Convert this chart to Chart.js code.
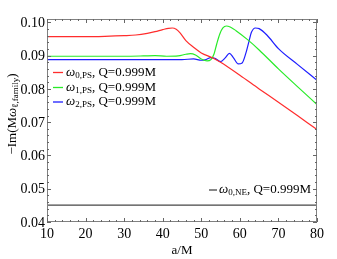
<!DOCTYPE html>
<html><head><meta charset="utf-8">
<script src="https://cdn.jsdelivr.net/npm/chart.js@4.4.0/dist/chart.umd.min.js"></script>
<style>html,body{margin:0;padding:0;background:#fff}#w{width:337px;height:259px}</style>
</head><body><div id="w"><canvas id="c" width="337" height="259"></canvas></div>
<script>
const xTicks = [10, 20, 30, 40, 50, 60, 70, 80];
const yTicks = [0.04, 0.05, 0.06, 0.07, 0.08, 0.09, 0.10];
const yTickLabels = ["0.04", "0.05", "0.06", "0.07", "0.08", "0.09", "0.10"];

const redA = [10, 20, 25, 30, 33, 36, 38, 40, 41.5, 42.5, 43.5, 44.5, 46, 48, 50, 53, 55, 60, 65, 70, 75, 80];
const redV = [0.0957, 0.0957, 0.0958, 0.0960, 0.0962, 0.0967, 0.0972, 0.0978, 0.0982, 0.0983, 0.0979, 0.0968, 0.0945, 0.0925, 0.0908, 0.0893, 0.0880, 0.0841, 0.0800, 0.0760, 0.0719, 0.0678];

const greenA = [10, 20, 30, 35, 38, 41, 44, 46, 47.2, 48.5, 50, 51.5, 52.5, 53.3, 54, 54.8, 55.6, 56.5, 57.5, 59, 62, 65, 70, 75, 80];
const greenV = [0.0898, 0.0898, 0.0898, 0.0899, 0.0900, 0.0898, 0.0899, 0.0904, 0.0906, 0.0902, 0.0890, 0.0884, 0.0888, 0.0905, 0.0935, 0.0965, 0.0983, 0.0989, 0.0986, 0.0975, 0.0948, 0.0917, 0.0860, 0.0806, 0.0753];

const blueA = [10, 30, 40, 45, 48, 50, 51, 52.5, 53.5, 55, 56.2, 57.3, 58.3, 59.6, 60.6, 61.5, 62.3, 63, 64, 65, 67, 70, 75, 80];
const blueV = [0.0888, 0.0888, 0.0888, 0.0888, 0.0890, 0.0886, 0.0887, 0.0894, 0.0892, 0.0882, 0.0893, 0.0907, 0.0894, 0.0875, 0.0878, 0.0905, 0.0940, 0.0970, 0.0983, 0.0981, 0.0962, 0.0921, 0.0873, 0.0826];

const neA = [10, 80];
const neV = [0.0451, 0.0451];

const seriesLabels = [
  ["ω", "0,PS", ", Q=0.999M"],
  ["ω", "1,PS", ", Q=0.999M"],
  ["ω", "2,PS", ", Q=0.999M"],
  ["ω", "0,NE", ", Q=0.999M"]
];
const colors = ["rgb(255,45,45)", "rgb(40,235,40)", "rgb(30,30,255)", "rgb(70,70,70)"];

function pts(a, v) { return a.map((x, i) => ({x: x, y: v[i]})); }

const SERIF = "'Liberation Serif', 'DejaVu Serif', serif";

function drawSegs(ctx, segs, x, y, align) {
  let total = 0;
  segs.forEach(s => { ctx.font = s[1]; total += ctx.measureText(s[0]).width; });
  let cx = align === 'center' ? x - total / 2 : x;
  ctx.textBaseline = 'middle';
  ctx.textAlign = 'left';
  segs.forEach(s => { ctx.font = s[1]; ctx.fillText(s[0], cx, y + s[2]); cx += ctx.measureText(s[0]).width; });
}

const framePlugin = {
  id: 'frame',
  afterDraw(chart) {
    const ctx = chart.ctx, a = chart.chartArea;
    const xs = chart.scales.x, ys = chart.scales.y;
    ctx.save();
    ctx.strokeStyle = '#808080';
    ctx.lineWidth = 1;
    ctx.strokeRect(a.left + 0.5, a.top + 0.5, a.right - a.left - 1, a.bottom - a.top - 1);
    ctx.strokeStyle = '#666';
    ctx.beginPath();
    for (let v = 10; v <= 80.001; v += 2) {
      const px = Math.round(xs.getPixelForValue(v)) + 0.5;
      const major = Math.abs(v % 10) < 1e-6;
      const L = major ? 4 : 2;
      ctx.moveTo(px, a.bottom); ctx.lineTo(px, a.bottom - L);
      ctx.moveTo(px, a.top); ctx.lineTo(px, a.top + L);
    }
    for (let k = 0; k <= 30; k++) {
      const v = 0.04 + k * 0.002;
      const py = Math.round(ys.getPixelForValue(v)) + 0.5;
      const L = (k % 5 === 0) ? 4 : 2;
      ctx.moveTo(a.left, py); ctx.lineTo(a.left + L, py);
      ctx.moveTo(a.right, py); ctx.lineTo(a.right - L, py);
    }
    ctx.stroke();

    // tick labels
    ctx.fillStyle = '#000';
    ctx.font = '14px ' + SERIF;
    ctx.textAlign = 'center'; ctx.textBaseline = 'middle';
    xs.ticks.forEach(t => ctx.fillText(String(t.value), xs.getPixelForValue(t.value), 234));
    ctx.textAlign = 'right';
    ys.ticks.forEach(t => {
      const i = yTicks.findIndex(v => Math.abs(v - t.value) < 1e-9);
      if (i >= 0) ctx.fillText(yTickLabels[i], 45, ys.getPixelForValue(t.value) + 1);
    });
    ctx.textAlign = 'center';
    ctx.font = '13px ' + SERIF;
    ctx.fillText('a/M', (a.left + a.right) / 2, 251);

    const ly = [72.5, 87.5, 102];
    for (let i = 0; i < 3; i++) {
      ctx.strokeStyle = colors[i];
      ctx.lineWidth = 1.3;
      ctx.beginPath(); ctx.moveTo(53, ly[i]); ctx.lineTo(63, ly[i]); ctx.stroke();
      drawSegs(ctx, [[seriesLabels[i][0], 'italic 13px ' + SERIF, 0], [seriesLabels[i][1], '9px ' + SERIF, 3], [seriesLabels[i][2], '13px ' + SERIF, 0]], 66, ly[i], 'left');
    }
    ctx.strokeStyle = colors[3];
    ctx.lineWidth = 1.3;
    ctx.beginPath(); ctx.moveTo(209, 190); ctx.lineTo(217, 190); ctx.stroke();
    drawSegs(ctx, [[seriesLabels[3][0], 'italic 13px ' + SERIF, 0], [seriesLabels[3][1], '9px ' + SERIF, 3], [seriesLabels[3][2], '13px ' + SERIF, 0]], 219, 190, 'left');

    ctx.save();
    ctx.translate(13, 114);
    ctx.rotate(-Math.PI / 2);
    drawSegs(ctx, [["−Im(M", '13px ' + SERIF, 0], ["ω", 'italic 13px ' + SERIF, 0], ["ℓ,family", '9px ' + SERIF, 3], [")", '13px ' + SERIF, 0]], 0, 0, 'center');
    ctx.restore();
    ctx.restore();
  }
};

const mk = (a, v, i) => ({
  data: pts(a, v), borderColor: colors[i], borderWidth: 1.2, pointRadius: 0,
  fill: false, cubicInterpolationMode: 'monotone'
});

new Chart(document.getElementById('c'), {
  type: 'line',
  data: { datasets: [mk(redA, redV, 0), mk(greenA, greenV, 1), mk(blueA, blueV, 2), Object.assign(mk(neA, neV, 3), {cubicInterpolationMode: 'default', tension: 0})] },
  options: {
    responsive: false, animation: false, devicePixelRatio: 1,
    layout: { padding: { left: 0, top: 19, right: 20, bottom: 0 } },
    plugins: { legend: { display: false }, tooltip: { enabled: false } },
    scales: {
      x: {
        type: 'linear', min: 10, max: 80,
        afterBuildTicks(s) { s.ticks = xTicks.map(v => ({value: v})); },
        afterFit(s) { s.height = 37; },
        grid: { display: false, drawTicks: false }, border: { display: false },
        ticks: { display: false }
      },
      y: {
        type: 'linear', min: 0.04, max: 0.101,
        afterBuildTicks(s) { s.ticks = yTicks.map(v => ({value: v})); },
        afterFit(s) { s.width = 47; },
        grid: { display: false, drawTicks: false }, border: { display: false },
        ticks: { display: false }
      }
    }
  },
  plugins: [framePlugin]
});
</script></body></html>
